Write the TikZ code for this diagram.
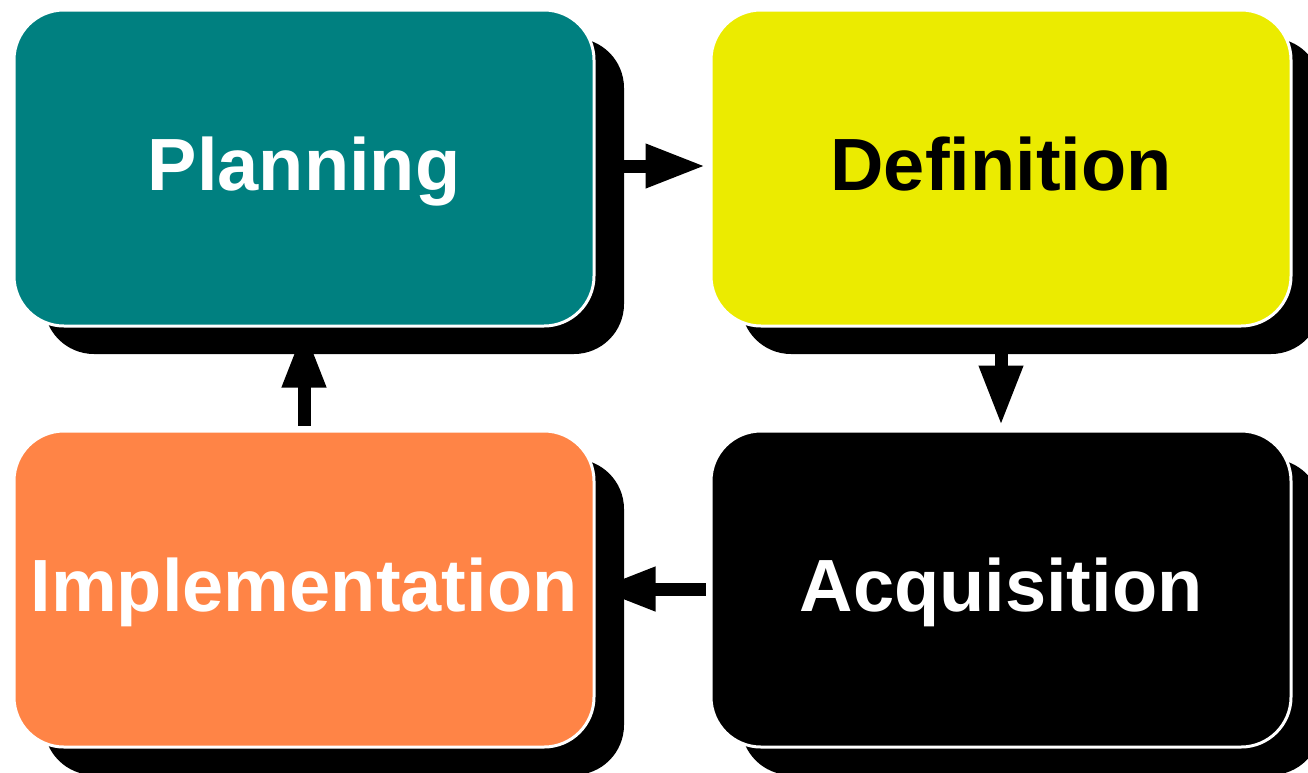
\documentclass[tikz,border=0pt]{standalone}
\usepackage{fontspec}
\setmainfont{Liberation Sans}
\usetikzlibrary{shadows,arrows.meta}
\pgfdeclarelayer{bg}
\pgfsetlayers{bg,main}
\definecolor{teal}{RGB}{0,128,128}
\definecolor{yel}{RGB}{235,235,0}
\definecolor{ora}{RGB}{255,132,70}
\tikzset{
  phase/.style={rectangle, rounded corners=50pt, draw=white, line width=3pt,
    minimum width=580pt, minimum height=316pt, inner sep=0pt,
    font=\fontsize{74}{80}\selectfont\bfseries, text height=53pt, text depth=8pt,
    drop shadow={shadow xshift=30pt, shadow yshift=-28pt, fill=black, opacity=1}},
  flow/.style={draw=black, line width=13pt, -{Triangle[width=41pt,length=60pt]}}
}
\begin{document}
\begin{tikzpicture}[x=1pt,y=-1pt]
\useasboundingbox (0,0) rectangle (1308,772);
\node[phase, fill=teal, text=white] (P) at (304,168) {Planning};
\node[phase, fill=yel, text=black] (D) at (1001,168) {Definition};
\node[phase, fill=ora, text=white] (I) at (304,589) {Implementation};
\node[phase, fill=black, text=white] (A) at (1001,589) {Acquisition};
\begin{pgfonlayer}{bg}
\draw[flow, shorten >=4pt] (P.east |- 0,166) -- (D.west |- 0,166);
\draw[flow, shorten >=4pt] (D.south) -- (A.north);
\draw[flow, shorten <=4pt] (I.north) -- (P.south);
\draw[flow, shorten <=4pt] (A.west) -- (I.east);
\end{pgfonlayer}
\end{tikzpicture}
\end{document}
